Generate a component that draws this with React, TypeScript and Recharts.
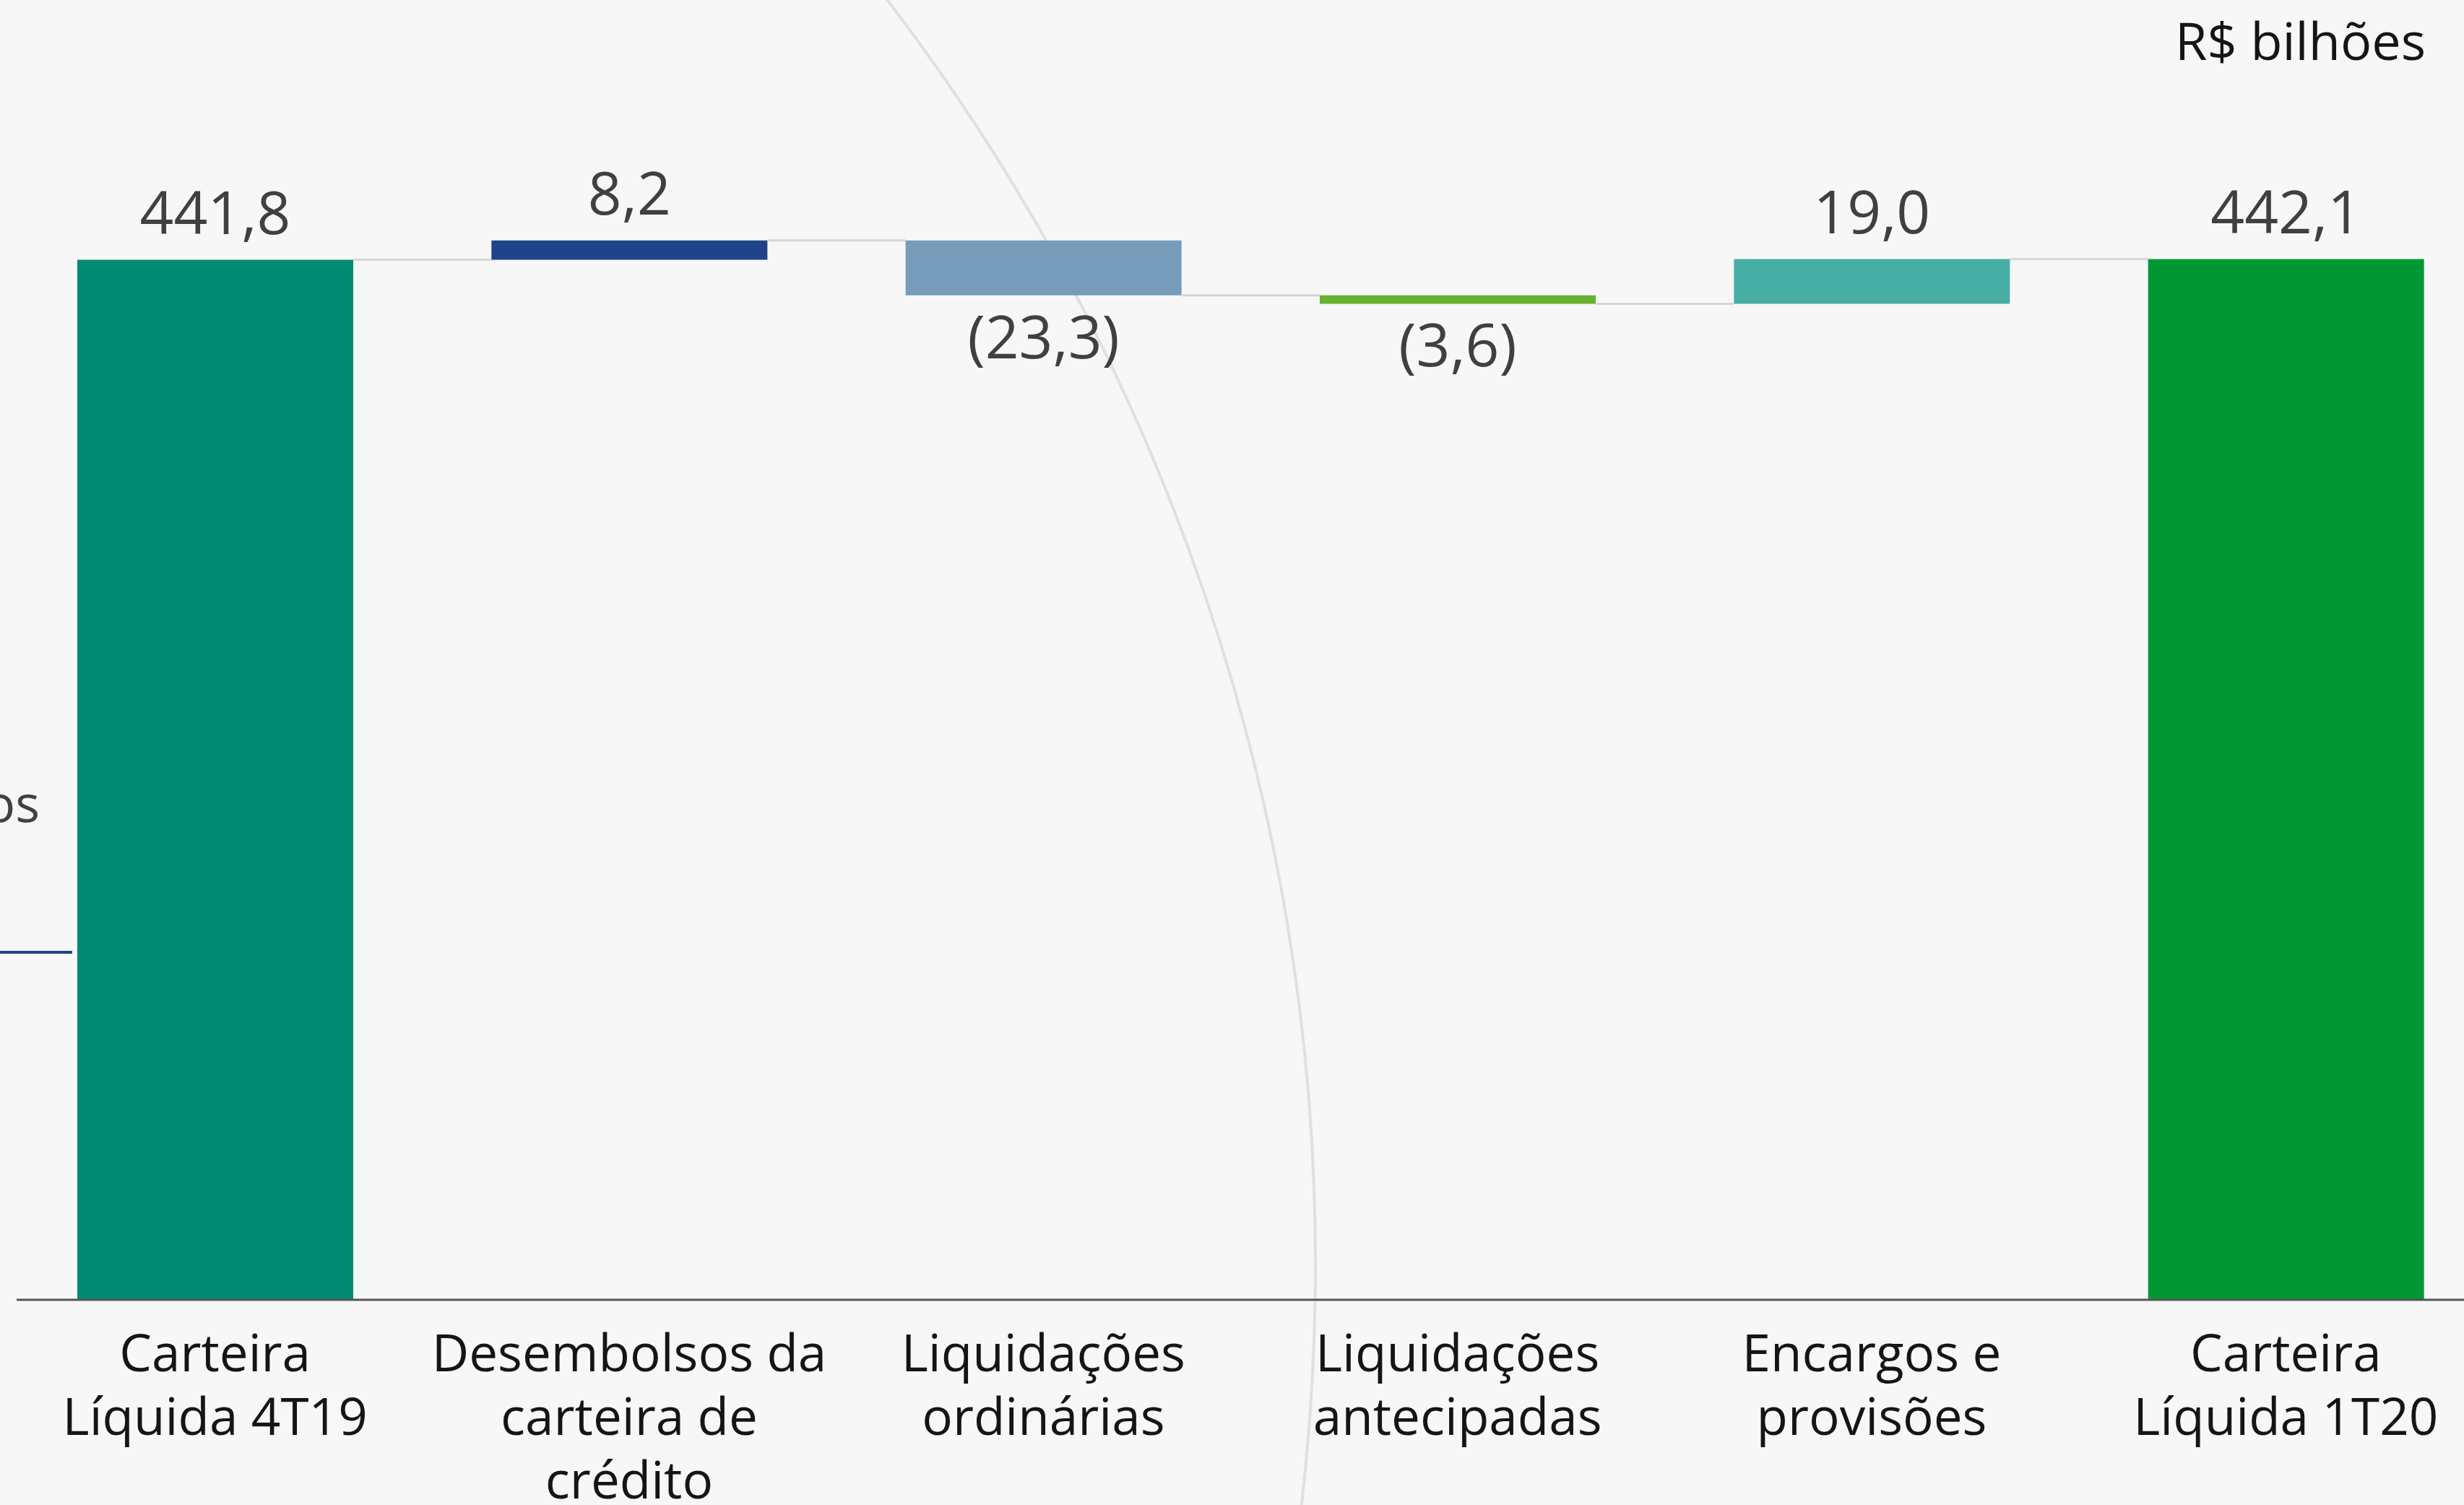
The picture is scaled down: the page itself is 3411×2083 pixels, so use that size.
import React from "react";
import { ComposedChart, Bar, XAxis, YAxis, Cell } from "recharts";

// Cascata da carteira líquida: 4T19 -> 1T20 (R$ bilhões)
const categorias = [
  ["Carteira", "Líquida 4T19"],
  ["Desembolsos da", "carteira de", "crédito"],
  ["Liquidações", "ordinárias"],
  ["Liquidações", "antecipadas"],
  ["Encargos e", "provisões"],
  ["Carteira", "Líquida 1T20"],
];
const variacoes = [441.8, 8.2, -23.3, -3.6, 19.0, 442.1];
const ehTotal = [true, false, false, false, false, true];
const cores = ["#008C73", "#1F448A", "#769CB9", "#68B22F", "#47AEA6", "#009835"];

const LARGURA = 3411;
const ALTURA = 2083;
const LARG_GRAF = 3451;
const BARRA = 382;
const FAIXA = (LARG_GRAF - 11) / categorias.length;
const VAO = FAIXA - BARRA;
const FONTE = "'Open Sans', 'Noto Sans', sans-serif";

let acumulado = 0;
const dados = categorias.map((linhas, i) => {
  const v = variacoes[i];
  const ini = ehTotal[i] ? 0 : acumulado;
  const fim = ehTotal[i] ? v : acumulado + v;
  acumulado = fim;
  return {
    nome: linhas.join("\n"),
    faixa: [Math.min(ini, fim), Math.max(ini, fim)],
    ini,
    fim,
    valor: v,
  };
});

const fmt = (v: number) => {
  const s = Math.abs(v).toFixed(1).replace(".", ",");
  return v < 0 ? `(${s})` : s;
};

function BarraCascata(props: any) {
  const { x, y, width, height, index, payload } = props;
  const sobe = payload.fim >= payload.ini;
  const nivel = sobe ? y : y + height;
  return (
    <g>
      <rect x={x} y={y} width={width} height={Math.max(height, 1)} fill={cores[index]} />
      {index < dados.length - 1 && (
        <line x1={x + width} x2={x + width + VAO} y1={nivel} y2={nivel} stroke="#d6d6d6" strokeWidth={3} />
      )}
      <text
        x={x + width / 2}
        y={sobe ? y - 36 : y + height + 87}
        textAnchor="middle"
        fontFamily={FONTE}
        fontSize={82}
        fill="#404040"
      >
        {fmt(payload.valor)}
      </text>
    </g>
  );
}

function RotuloCategoria({ x, y, payload }: any) {
  const linhas = String(payload.value).split("\n");
  return (
    <g transform={`translate(${x},${y})`}>
      {linhas.map((l, i) => (
        <text key={i} x={0} y={99 + i * 88} textAnchor="middle" fontFamily={FONTE} fontSize={71} fill="#151515">
          {l}
        </text>
      ))}
    </g>
  );
}

export default function App() {
  return (
    <div style={{ position: "absolute", left: 0, top: 0, width: LARGURA, height: ALTURA, overflow: "hidden", background: "#f7f7f7" }}>
      <svg width={LARGURA} height={ALTURA} style={{ position: "absolute", left: 0, top: 0 }}>
        <circle cx={-1059} cy={1750} r={2880} fill="none" stroke="#e0e0e0" strokeWidth={4} />
        <text x={55} y={1138} textAnchor="end" fontFamily={FONTE} fontSize={71} fill="#404040">Desembolsos</text>
        <line x1={0} x2={100} y1={1318} y2={1318} stroke="#1F448A" strokeWidth={4} />
        <text x={3358} y={83} textAnchor="end" fontFamily={FONTE} fontSize={72} fill="#151515">R$ bilhões</text>
      </svg>
      <div style={{ position: "absolute", left: 0, top: 0 }}>
        <ComposedChart width={LARG_GRAF} height={ALTURA} data={dados} margin={{ top: 7, right: 0, bottom: 0, left: 23 }}>
          <XAxis
            dataKey="nome"
            height={284}
            interval={0}
            padding={{ left: -12, right: 0 }}
            tickLine={false}
            tickSize={0}
            tickMargin={0}
            axisLine={{ stroke: "#555555", strokeWidth: 3 }}
            tick={<RotuloCategoria />}
          />
          <YAxis hide domain={[0, 550]} />
          <Bar dataKey="faixa" barSize={BARRA} shape={<BarraCascata />} isAnimationActive={false}>
            {dados.map((_, i) => (
              <Cell key={i} fill={cores[i]} />
            ))}
          </Bar>
        </ComposedChart>
      </div>
    </div>
  );
}
